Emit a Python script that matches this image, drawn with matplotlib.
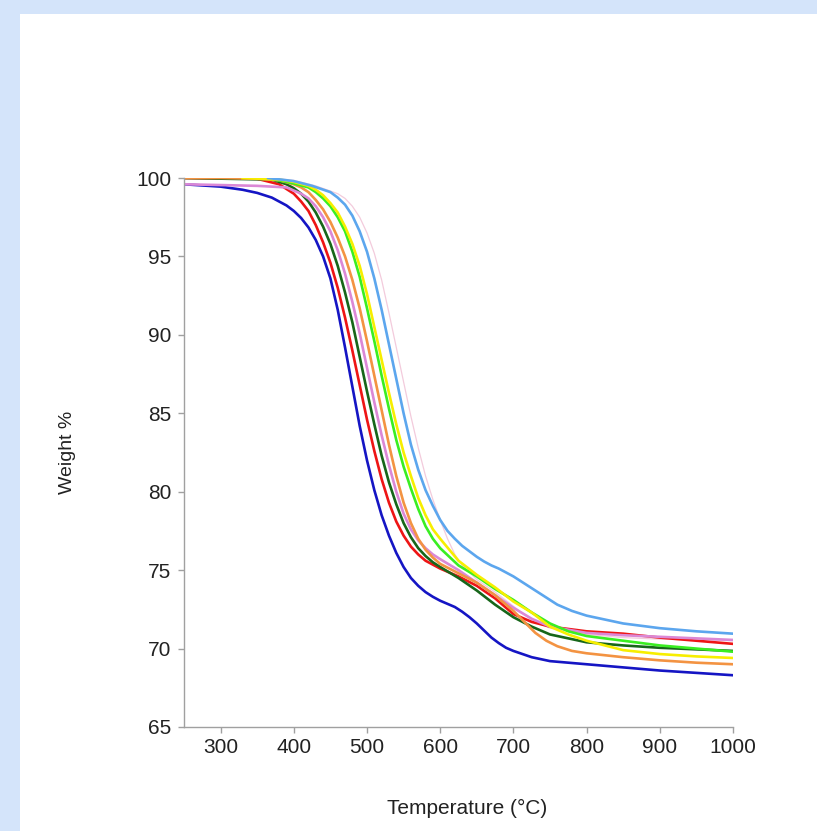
import matplotlib
matplotlib.use("Agg")
import matplotlib.pyplot as plt
from matplotlib.patches import Rectangle

# ---- data ----
t_blue = [250, 300, 330, 350, 370, 390, 400, 410, 420, 430, 440, 450, 460, 470, 480, 490, 500, 510, 520, 530, 540, 550, 560, 570, 580, 590, 600, 610, 620, 630, 640, 650, 660, 670, 680, 690, 700, 725, 750, 800, 850, 900, 950, 1000]
w_blue = [99.6, 99.45, 99.25, 99.05, 98.75, 98.25, 97.9, 97.45, 96.85, 96.05, 95.0, 93.6, 91.6, 89.2, 86.7, 84.2, 82.0, 80.1, 78.5, 77.2, 76.1, 75.2, 74.5, 74.0, 73.6, 73.3, 73.05, 72.85, 72.65, 72.35, 72.0, 71.6, 71.15, 70.7, 70.35, 70.05, 69.85, 69.45, 69.2, 69.0, 68.8, 68.6, 68.45, 68.3]

t_red = [250, 350, 380, 400, 410, 420, 430, 440, 450, 460, 470, 480, 490, 500, 510, 520, 530, 540, 550, 560, 570, 580, 600, 625, 650, 675, 700, 725, 750, 800, 850, 900, 950, 1000]
w_red = [100.0, 99.95, 99.6, 99.0, 98.5, 97.9, 97.0, 95.9, 94.6, 93.0, 91.1, 89.0, 86.8, 84.6, 82.6, 80.8, 79.3, 78.1, 77.2, 76.5, 76.0, 75.6, 75.1, 74.6, 74.0, 73.2, 72.2, 71.7, 71.4, 71.1, 70.95, 70.7, 70.5, 70.3]

t_dgreen = [250, 370, 390, 400, 410, 420, 430, 440, 450, 460, 470, 480, 490, 500, 510, 520, 530, 540, 550, 560, 570, 580, 590, 600, 625, 650, 675, 700, 725, 750, 800, 850, 900, 950, 1000]
w_dgreen = [100.0, 99.9, 99.6, 99.35, 99.0, 98.5, 97.8, 96.9, 95.8, 94.4, 92.7, 90.8, 88.6, 86.4, 84.3, 82.3, 80.6, 79.2, 78.0, 77.1, 76.4, 75.9, 75.5, 75.2, 74.5, 73.7, 72.8, 72.0, 71.4, 70.9, 70.4, 70.2, 70.05, 69.95, 69.85]

t_violet = [250, 300, 350, 390, 410, 420, 430, 440, 450, 460, 470, 480, 490, 500, 510, 520, 530, 540, 550, 560, 570, 580, 590, 600, 625, 650, 675, 700, 725, 750, 800, 850, 900, 950, 1000]
w_violet = [99.6, 99.55, 99.5, 99.4, 99.0, 98.7, 98.2, 97.5, 96.6, 95.4, 93.9, 92.1, 90.1, 87.9, 85.7, 83.6, 81.7, 80.0, 78.6, 77.6, 76.9, 76.4, 76.0, 75.7, 75.0, 74.2, 73.4, 72.6, 71.9, 71.4, 71.0, 70.85, 70.75, 70.65, 70.55]

t_orange = [250, 300, 350, 380, 400, 410, 420, 430, 440, 450, 460, 470, 480, 490, 500, 510, 520, 530, 540, 550, 560, 570, 580, 590, 600, 625, 650, 675, 700, 715, 730, 745, 760, 780, 800, 850, 900, 950, 1000]
w_orange = [100.0, 100.0, 99.95, 99.85, 99.6, 99.4, 99.1, 98.6, 98.0, 97.2, 96.2, 95.0, 93.5, 91.7, 89.6, 87.4, 85.2, 83.0, 81.0, 79.3, 78.0, 77.0, 76.3, 75.8, 75.4, 74.8, 74.2, 73.4, 72.4, 71.7, 71.0, 70.5, 70.15, 69.85, 69.7, 69.45, 69.25, 69.1, 69.0]

t_green = [360, 380, 400, 420, 430, 440, 450, 460, 470, 480, 490, 500, 510, 520, 530, 540, 550, 560, 570, 580, 590, 600, 625, 650, 675, 700, 725, 750, 775, 800, 850, 900, 950, 1000]
w_green = [100.0, 99.85, 99.65, 99.4, 99.1, 98.7, 98.2, 97.5, 96.6, 95.3, 93.7, 91.7, 89.6, 87.4, 85.3, 83.3, 81.6, 80.2, 78.9, 77.8, 77.0, 76.4, 75.3, 74.6, 73.8, 73.1, 72.3, 71.6, 71.1, 70.8, 70.5, 70.2, 70.0, 69.8]

t_yellow = [330, 380, 400, 420, 430, 440, 450, 460, 470, 480, 490, 500, 510, 520, 530, 540, 550, 560, 570, 580, 590, 600, 625, 650, 675, 700, 725, 750, 775, 800, 850, 900, 950, 1000]
w_yellow = [100.0, 99.9, 99.75, 99.5, 99.25, 98.9, 98.4, 97.8, 96.9, 95.8, 94.4, 92.6, 90.5, 88.4, 86.3, 84.3, 82.5, 81.0, 79.6, 78.5, 77.6, 77.0, 75.6, 74.7, 73.9, 73.0, 72.3, 71.4, 70.9, 70.5, 69.9, 69.65, 69.5, 69.4]

t_lblue = [365, 400, 425, 450, 460, 470, 480, 490, 500, 510, 520, 530, 540, 550, 560, 570, 580, 590, 600, 610, 620, 630, 640, 650, 660, 670, 680, 690, 700, 720, 740, 760, 780, 800, 850, 900, 950, 1000]
w_lblue = [100.0, 99.8, 99.5, 99.1, 98.75, 98.3, 97.6, 96.6, 95.3, 93.6, 91.6, 89.4, 87.2, 85.0, 83.0, 81.4, 80.1, 79.1, 78.2, 77.5, 77.0, 76.55, 76.2, 75.85, 75.55, 75.3, 75.1, 74.85, 74.6, 74.0, 73.4, 72.8, 72.4, 72.1, 71.6, 71.3, 71.1, 70.95]

t_pink = [370, 400, 430, 460, 470, 480, 490, 500, 510, 520, 530, 540, 550, 560, 570, 580, 590, 600, 610, 620, 630, 650, 675, 700, 725, 750, 800, 850, 900, 1000]
w_pink = [100.0, 99.85, 99.5, 99.0, 98.7, 98.2, 97.5, 96.5, 95.2, 93.5, 91.4, 89.2, 87.0, 84.8, 82.8, 81.0, 79.5, 78.2, 77.0, 76.0, 75.3, 74.4, 73.6, 72.7, 71.8, 71.3, 70.9, 70.7, 70.6, 70.5]

x_ticks = [300, 400, 500, 600, 700, 800, 900, 1000]
y_ticks = [65, 70, 75, 80, 85, 90, 95, 100]

plt.rcParams['font.family'] = ['Liberation Sans', 'DejaVu Sans']

W, H = 817, 831
fig = plt.figure(figsize=(W / 100, H / 100), dpi=100, facecolor='#d4e4fa')
bg = Rectangle((20 / W, 0), 1 - 20 / W, 1 - 14 / H, transform=fig.transFigure,
               facecolor='white', edgecolor='none', zorder=-10)
fig.add_artist(bg)

ax = fig.add_axes([184 / W, 104 / H, (733 - 184) / W, (727 - 178) / H])
ax.set_facecolor('none')
ax.set_zorder(5)

lw = 1.9
ax.plot(t_pink, w_pink, color='#f3cbdc', lw=0.9)
ax.plot(t_blue, w_blue, color='#1515c4', lw=lw)
ax.plot(t_red, w_red, color='#ee1515', lw=lw)
ax.plot(t_dgreen, w_dgreen, color='#17661a', lw=lw)
ax.plot(t_violet, w_violet, color='#db88d6', lw=lw)
ax.plot(t_orange, w_orange, color='#f39342', lw=lw)
ax.plot(t_green, w_green, color='#3aee22', lw=lw)
ax.plot(t_yellow, w_yellow, color='#f7ee00', lw=lw)
ax.plot(t_lblue, w_lblue, color='#5ca6ee', lw=lw)

ax.set_xlim(250, 1000)
ax.set_ylim(65, 100)
ax.set_xticks(x_ticks)
ax.set_yticks(y_ticks)
for s in ['top', 'right']:
    ax.spines[s].set_visible(False)
for s in ['left', 'bottom']:
    ax.spines[s].set_color('#a0a0a0')
    ax.spines[s].set_linewidth(1.0)
ax.tick_params(direction='out', length=4, width=1, color='#a0a0a0',
               labelsize=15, labelcolor='#222222')
ax.tick_params(axis='x', pad=4)
ax.tick_params(axis='y', pad=5)

fig.text(68 / W, 1 - 452 / H, 'Weight %', rotation=90, ha='center', va='center',
         fontsize=14, color='#222222', zorder=6)
fig.text(467 / W, 1 - 808 / H, 'Temperature (°C)', ha='center', va='center',
         fontsize=15, color='#222222', zorder=6)

fig.savefig('out.png', dpi=100, facecolor=fig.get_facecolor())
